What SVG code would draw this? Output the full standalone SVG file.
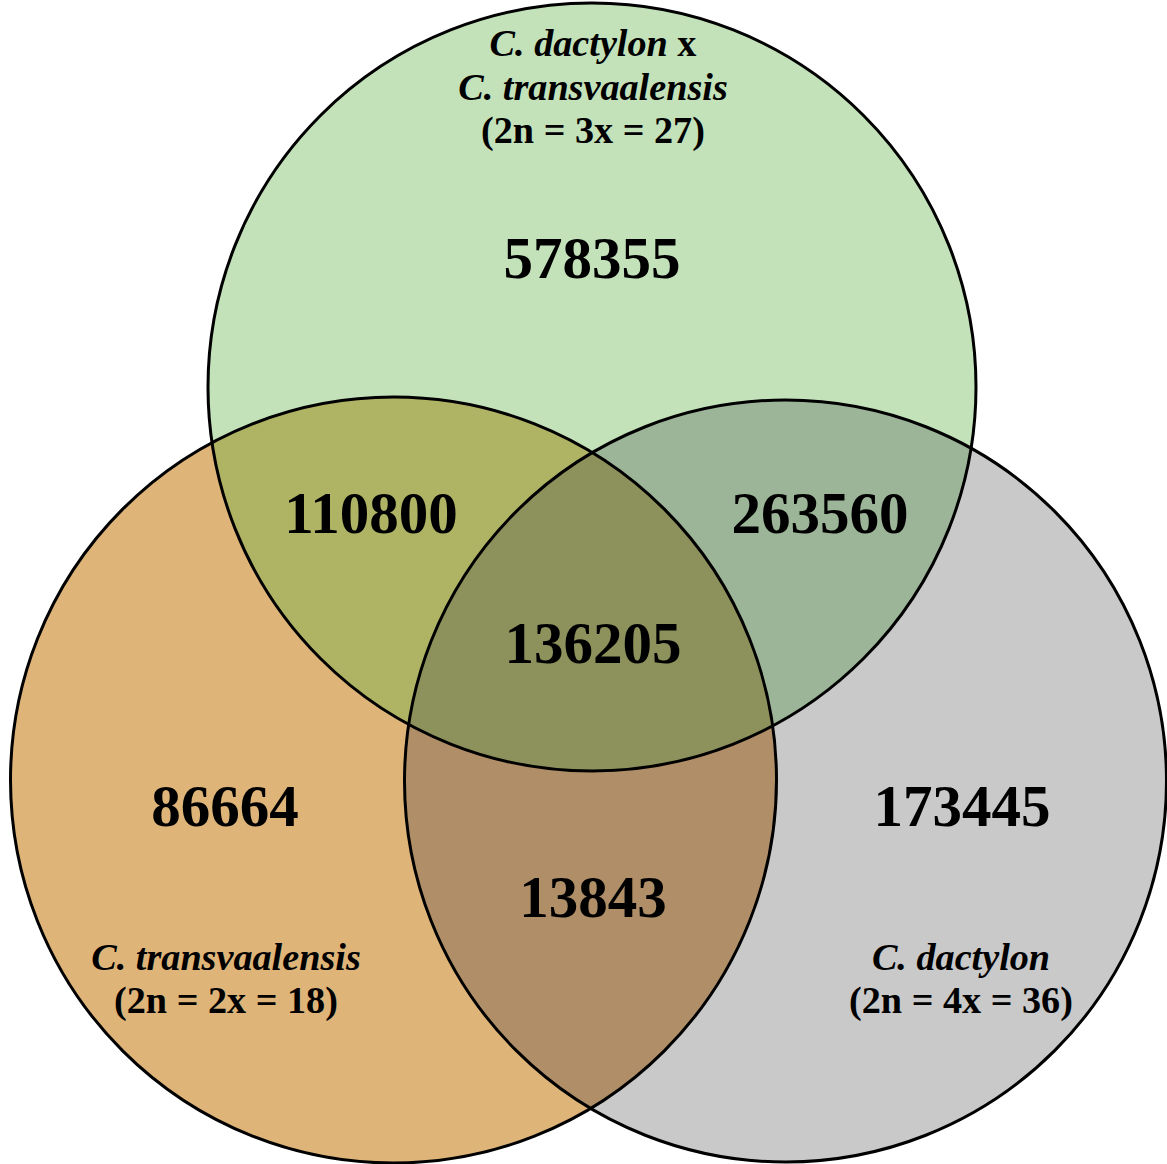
<svg xmlns="http://www.w3.org/2000/svg" width="1167" height="1164" viewBox="0 0 1167 1164">
<style>
.num{font-family:"Liberation Serif","Times New Roman",serif;font-weight:bold;font-size:59px;fill:#000;text-anchor:middle}
.lbl{font-family:"Liberation Serif","Times New Roman",serif;font-weight:bold;font-size:38.2px;fill:#000;text-anchor:middle}
.it{font-style:italic}
.edge{fill:none;stroke:#000;stroke-width:3}
</style>
<defs>
<clipPath id="cT"><circle cx="592" cy="387" r="384"/></clipPath>
<clipPath id="cL"><circle cx="393.5" cy="780" r="383"/></clipPath>
<clipPath id="cR"><circle cx="785.5" cy="781" r="381"/></clipPath>
</defs>
<rect width="1167" height="1164" fill="#fff"/>
<g id="fills">
<circle cx="592" cy="387" r="384" fill="#C3E2BA"/>
<circle cx="393.5" cy="780" r="383" fill="#DEB479"/>
<circle cx="785.5" cy="781" r="381" fill="#C9C9C9"/>
<g clip-path="url(#cT)"><circle cx="393.5" cy="780" r="383" fill="#AFB465"/><circle cx="785.5" cy="781" r="381" fill="#9CB497"/></g>
<g clip-path="url(#cL)"><circle cx="785.5" cy="781" r="381" fill="#B08F68"/></g>
<g clip-path="url(#cL)"><g clip-path="url(#cR)"><circle cx="592" cy="387" r="384" fill="#8D915B"/></g></g>
</g>
<g id="connectors"></g>
<g id="node-top">
<circle class="edge" cx="592" cy="387" r="384"/>
<text class="lbl" x="593" y="56"><tspan class="it">C. dactylon</tspan> x</text>
<text class="lbl it" x="593" y="100">C. transvaalensis</text>
<text class="lbl" x="593" y="143">(2n = 3x = 27)</text>
<text class="num" x="592" y="278">578355</text>
</g>
<g id="node-left">
<circle class="edge" cx="393.5" cy="780" r="383"/>
<text class="lbl it" x="226" y="970">C. transvaalensis</text>
<text class="lbl" x="226" y="1013">(2n = 2x = 18)</text>
<text class="num" x="225" y="826">86664</text>
</g>
<g id="node-right">
<circle class="edge" cx="785.5" cy="781" r="381"/>
<text class="lbl it" x="961" y="970">C. dactylon</text>
<text class="lbl" x="961" y="1013">(2n = 4x = 36)</text>
<text class="num" x="962" y="826">173445</text>
</g>
<g id="overlaps">
<text class="num" x="371" y="533">110800</text>
<text class="num" x="820" y="533">263560</text>
<text class="num" x="593" y="663">136205</text>
<text class="num" x="593" y="917">13843</text>
</g>
</svg>
